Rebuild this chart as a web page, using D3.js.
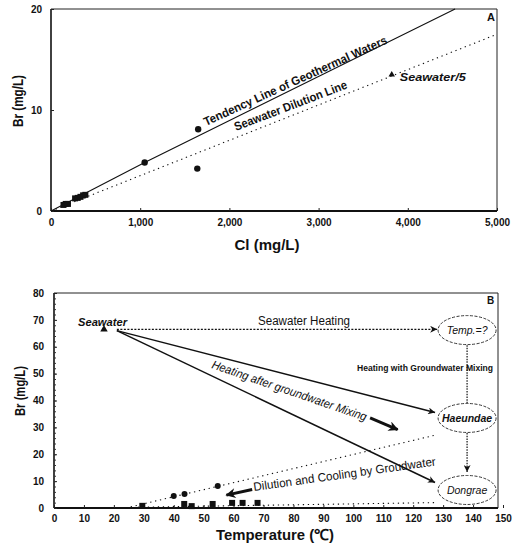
<!DOCTYPE html>
<html>
<head>
<meta charset="utf-8">
<script src="https://cdn.jsdelivr.net/npm/d3@7"></script>
<style>
  body { margin: 0; background: #fff; }
  svg { display: block; font-family: "Liberation Sans", Arial, sans-serif; }
</style>
</head>
<body>
<svg id="chart" width="516" height="545"></svg>
<script>
// ---- panel A data (Cl vs Br, mg/L) ----
const aXTicks = [0, 1000, 2000, 3000, 4000, 5000];
const aYTicks = [0, 10, 20];
const aSquares = [[140, 0.6], [165, 0.7], [190, 0.7], [270, 1.25], [300, 1.3], [330, 1.4], [360, 1.55], [385, 1.6]];
const aCircles = [[1050, 4.8], [1650, 8.1], [1640, 4.2]];
const aSeawater = [3820, 13.5];
const aTendency = [[0, 0], [1050, 4.8], [4530, 20]];
const aDilution = [[0, 0], [5000, 17.5]];

// ---- panel B data (Temperature vs Br) ----
const bXTicks = d3.range(0, 151, 10);
const bYTicks = d3.range(0, 81, 10);
const bSeawater = [16.7, 66.5];
const bCircles = [[40, 4.5], [43.6, 5.2], [54.7, 8.2]];
const bSquares = [[29.5, 0.8], [43.5, 1.5], [46, 0.7], [53, 1.5], [59.5, 1.9], [63, 1.9], [68, 1.9]];
const bHeating = [[21, 66.5], [128, 66.5]];
const bMixLines = [[[21, 66], [127.3, 35.5]], [[21, 66], [127.3, 9.5]]];
const bDilutionLines = [[[24, 0], [127, 27]], [[28, 0.3], [127, 2]]];
const bVertical = [[[138, 60.6], [138, 39]], [[138, 27.9], [138, 13.4]]];
const bNodes = [
    { name: "Temp.=?", t: 138, br: 66.2, weight: "normal" },
    { name: "Haeundae", t: 138, br: 33.5, weight: "bold" },
    { name: "Dongrae", t: 138, br: 6.7, weight: "normal" }
];

const svg = d3.select("#chart");

const defs = svg.append("defs");
defs.append("marker")
    .attr("id", "head")
    .attr("viewBox", "0 0 10 10")
    .attr("refX", 10).attr("refY", 5)
    .attr("markerWidth", 9).attr("markerHeight", 7)
    .attr("markerUnits", "userSpaceOnUse")
    .attr("orient", "auto")
    .append("path").attr("d", "M0,0 L10,5 L0,10 L3,5 Z").attr("fill", "#111");
defs.append("marker")
    .attr("id", "bighead")
    .attr("viewBox", "0 0 10 10")
    .attr("refX", 9).attr("refY", 5)
    .attr("markerWidth", 13).attr("markerHeight", 10)
    .attr("markerUnits", "userSpaceOnUse")
    .attr("orient", "auto")
    .append("path").attr("d", "M0,0 L10,5 L0,10 L3,5 Z").attr("fill", "#111");

function frame(g, x0, x1, y0, y1) {
    g.append("line").attr("x1", x0).attr("x2", x1).attr("y1", y1).attr("y2", y1)
     .attr("stroke", "#222").attr("stroke-width", 1);
    g.append("line").attr("x1", x1).attr("x2", x1).attr("y1", y1).attr("y2", y0)
     .attr("stroke", "#222").attr("stroke-width", 1);
    g.append("line").attr("x1", x0).attr("x2", x1).attr("y1", y0).attr("y2", y0)
     .attr("stroke", "#111").attr("stroke-width", 2);
    g.append("line").attr("x1", x0).attr("x2", x0).attr("y1", y0).attr("y2", y1)
     .attr("stroke", "#111").attr("stroke-width", 1.6);
}

function styleAxis(g) {
    g.select(".domain").remove();
    g.selectAll(".tick line").attr("stroke", "#222");
    g.selectAll(".tick text")
     .attr("fill", "#111")
     .style("font-size", "10px")
     .style("font-weight", "bold");
}

// =================== Panel A ===================
const ax = d3.scaleLinear().domain([0, 5000]).range([51, 497]);
const ay = d3.scaleLinear().domain([0, 20]).range([211, 9]);
const gA = svg.append("g");

frame(gA, 51, 497, 211, 9);

gA.append("g")
  .attr("transform", "translate(0,211)")
  .call(d3.axisBottom(ax).tickValues(aXTicks).tickSize(-3).tickPadding(8)
        .tickFormat(d3.format(",")))
  .call(styleAxis);
gA.append("g")
  .attr("transform", "translate(51,0)")
  .call(d3.axisLeft(ay).tickValues(aYTicks).tickSize(-3).tickPadding(9))
  .call(styleAxis);

const lineA = d3.line().x((d) => ax(d[0])).y((d) => ay(d[1]));
gA.append("path").attr("d", lineA(aTendency))
  .attr("fill", "none").attr("stroke", "#111").attr("stroke-width", 1.1);
gA.append("path").attr("d", lineA(aDilution))
  .attr("fill", "none").attr("stroke", "#111").attr("stroke-width", 1.1)
  .attr("stroke-dasharray", "1.3,3.7");

gA.selectAll("rect.sq")
  .data(aSquares)
  .join("rect")
  .attr("class", "sq")
  .attr("x", (d) => ax(d[0]) - 3).attr("y", (d) => ay(d[1]) - 3)
  .attr("width", 6).attr("height", 6)
  .attr("fill", "#111");
gA.selectAll("circle.pt")
  .data(aCircles)
  .join("circle")
  .attr("class", "pt")
  .attr("cx", (d) => ax(d[0])).attr("cy", (d) => ay(d[1]))
  .attr("r", 3.2).attr("fill", "#111");
gA.append("path")
  .attr("d", d3.symbol(d3.symbolTriangle, 18)())
  .attr("transform", `translate(${ax(aSeawater[0])},${ay(aSeawater[1])})`)
  .attr("fill", "#111");

gA.append("text")
  .attr("transform", "translate(206,126) rotate(-24.5)")
  .attr("textLength", 200).attr("lengthAdjust", "spacingAndGlyphs")
  .style("font-size", "12px").style("font-weight", "bold").attr("fill", "#111")
  .text("Tendency Line of Geothermal Waters");
gA.append("text")
  .attr("transform", "translate(236,131) rotate(-21)")
  .attr("textLength", 120).attr("lengthAdjust", "spacingAndGlyphs")
  .style("font-size", "12px").style("font-weight", "bold").attr("fill", "#111")
  .text("Seawater Dilution Line");
gA.append("text")
  .attr("x", ax(aSeawater[0]) + 8).attr("y", ay(aSeawater[1]) + 6)
  .attr("textLength", 66).attr("lengthAdjust", "spacingAndGlyphs")
  .style("font-size", "10.5px").style("font-weight", "bold").style("font-style", "italic")
  .attr("fill", "#111")
  .text("Seawater/5");
gA.append("text")
  .attr("x", 487).attr("y", 21)
  .style("font-size", "11px").style("font-weight", "bold").attr("fill", "#111")
  .text("A");

gA.append("text")
  .attr("transform", "translate(23,101) rotate(-90)")
  .attr("text-anchor", "middle")
  .attr("textLength", 52).attr("lengthAdjust", "spacingAndGlyphs")
  .style("font-size", "15px").style("font-weight", "bold").attr("fill", "#111")
  .text("Br (mg/L)");
gA.append("text")
  .attr("x", 267).attr("y", 250)
  .attr("text-anchor", "middle")
  .style("font-size", "15px").style("font-weight", "bold").attr("fill", "#111")
  .text("Cl (mg/L)");

// =================== Panel B ===================
const bx = d3.scaleLinear().domain([0, 150]).range([54, 503]);
const by = d3.scaleLinear().domain([0, 80]).range([508, 293]);
const gB = svg.append("g");

frame(gB, 54, 498, 508, 293);

gB.append("g")
  .attr("transform", "translate(0,508)")
  .call(d3.axisBottom(bx).tickValues(bXTicks).tickSize(-3).tickPadding(7))
  .call(styleAxis);
gB.append("g")
  .attr("transform", "translate(54,0)")
  .call(d3.axisLeft(by).tickValues(bYTicks).tickSize(-3).tickPadding(10))
  .call(styleAxis);
// minor ticks on the left axis
gB.append("g")
  .attr("transform", "translate(54,0)")
  .call(d3.axisLeft(by).tickValues(d3.range(2, 80, 2)).tickSize(-2).tickFormat(""))
  .call((g) => g.select(".domain").remove())
  .call((g) => g.selectAll(".tick line").attr("stroke", "#333"));

const lineB = d3.line().x((d) => bx(d[0])).y((d) => by(d[1]));

gB.selectAll("path.dil")
  .data(bDilutionLines)
  .join("path")
  .attr("class", "dil")
  .attr("d", lineB)
  .attr("fill", "none").attr("stroke", "#111").attr("stroke-width", 1.1)
  .attr("stroke-dasharray", "1.3,3.7");

gB.append("path").attr("d", lineB(bHeating))
  .attr("fill", "none").attr("stroke", "#111").attr("stroke-width", 1.2)
  .attr("stroke-dasharray", "2,1.5")
  .attr("marker-end", "url(#head)");

gB.selectAll("path.mix")
  .data(bMixLines)
  .join("path")
  .attr("class", "mix")
  .attr("d", lineB)
  .attr("fill", "none").attr("stroke", "#111").attr("stroke-width", 1.5)
  .attr("marker-end", "url(#head)");

gB.selectAll("path.vert")
  .data(bVertical)
  .join("path")
  .attr("class", "vert")
  .attr("d", lineB)
  .attr("fill", "none").attr("stroke", "#111").attr("stroke-width", 1.2)
  .attr("stroke-dasharray", "1.5,1.2")
  .attr("marker-end", (d, i) => i === 1 ? "url(#head)" : null);

const node = gB.selectAll("g.node")
  .data(bNodes)
  .join("g")
  .attr("class", "node")
  .attr("transform", (d) => `translate(${bx(d.t)},${by(d.br)})`);
node.append("ellipse")
    .attr("rx", 29).attr("ry", 14.5)
    .attr("fill", "#fff").attr("stroke", "#222").attr("stroke-width", 0.9)
    .attr("stroke-dasharray", "3,1.5");
node.append("text")
    .attr("text-anchor", "middle").attr("y", 4)
    .style("font-size", "10.5px").style("font-style", "italic")
    .style("font-weight", (d) => d.weight)
    .attr("fill", "#111")
    .text((d) => d.name);

gB.selectAll("rect.sq")
  .data(bSquares)
  .join("rect")
  .attr("class", "sq")
  .attr("x", (d) => bx(d[0]) - 3).attr("y", (d) => by(d[1]) - 3)
  .attr("width", 6).attr("height", 6)
  .attr("fill", "#111");
gB.selectAll("circle.pt")
  .data(bCircles)
  .join("circle")
  .attr("class", "pt")
  .attr("cx", (d) => bx(d[0])).attr("cy", (d) => by(d[1]))
  .attr("r", 3).attr("fill", "#111");
gB.append("path")
  .attr("d", d3.symbol(d3.symbolTriangle, 24)())
  .attr("transform", `translate(${bx(bSeawater[0])},${by(bSeawater[1])})`)
  .attr("fill", "#111");

// thick annotation arrows
gB.append("line")
  .attr("x1", bx(105.6)).attr("y1", by(33.5)).attr("x2", bx(114.8)).attr("y2", by(29.2))
  .attr("stroke", "#111").attr("stroke-width", 3).attr("marker-end", "url(#bighead)");
gB.append("line")
  .attr("x1", bx(66.2)).attr("y1", by(6.9)).attr("x2", bx(57.6)).attr("y2", by(4.8))
  .attr("stroke", "#111").attr("stroke-width", 3).attr("marker-end", "url(#bighead)");

// texts
gB.append("text")
  .attr("x", 78).attr("y", 326)
  .attr("textLength", 49).attr("lengthAdjust", "spacingAndGlyphs")
  .style("font-size", "10px").style("font-weight", "bold").style("font-style", "italic")
  .attr("fill", "#111").text("Seawater");
gB.append("text")
  .attr("x", 258).attr("y", 325)
  .attr("textLength", 92).attr("lengthAdjust", "spacingAndGlyphs")
  .style("font-size", "12px").attr("fill", "#111").text("Seawater Heating");
gB.append("text")
  .attr("x", 357).attr("y", 371)
  .attr("textLength", 136).attr("lengthAdjust", "spacingAndGlyphs")
  .style("font-size", "9px").style("font-weight", "bold")
  .attr("fill", "#111").text("Heating with Groundwater Mixing");
gB.append("text")
  .attr("transform", "translate(211,368) rotate(19)")
  .attr("textLength", 163).attr("lengthAdjust", "spacingAndGlyphs")
  .style("font-size", "12px").style("font-style", "italic")
  .attr("fill", "#111").text("Heating after groundwater Mixing");
gB.append("text")
  .attr("transform", "translate(254,491) rotate(-8)")
  .attr("textLength", 184).attr("lengthAdjust", "spacingAndGlyphs")
  .style("font-size", "12px")
  .attr("fill", "#111").text("Dilution and Cooling by Groudwater");
gB.append("text")
  .attr("x", 487).attr("y", 304)
  .style("font-size", "10px").style("font-weight", "bold").attr("fill", "#111")
  .text("B");

gB.append("text")
  .attr("transform", "translate(25,391) rotate(-90)")
  .attr("text-anchor", "middle")
  .attr("textLength", 50).attr("lengthAdjust", "spacingAndGlyphs")
  .style("font-size", "15px").style("font-weight", "bold").attr("fill", "#111")
  .text("Br (mg/L)");
gB.append("text")
  .attr("x", 275).attr("y", 540)
  .attr("text-anchor", "middle")
  .attr("textLength", 118).attr("lengthAdjust", "spacingAndGlyphs")
  .style("font-size", "15px").style("font-weight", "bold").attr("fill", "#111")
  .text("Temperature (℃)");
</script>
</body>
</html>
